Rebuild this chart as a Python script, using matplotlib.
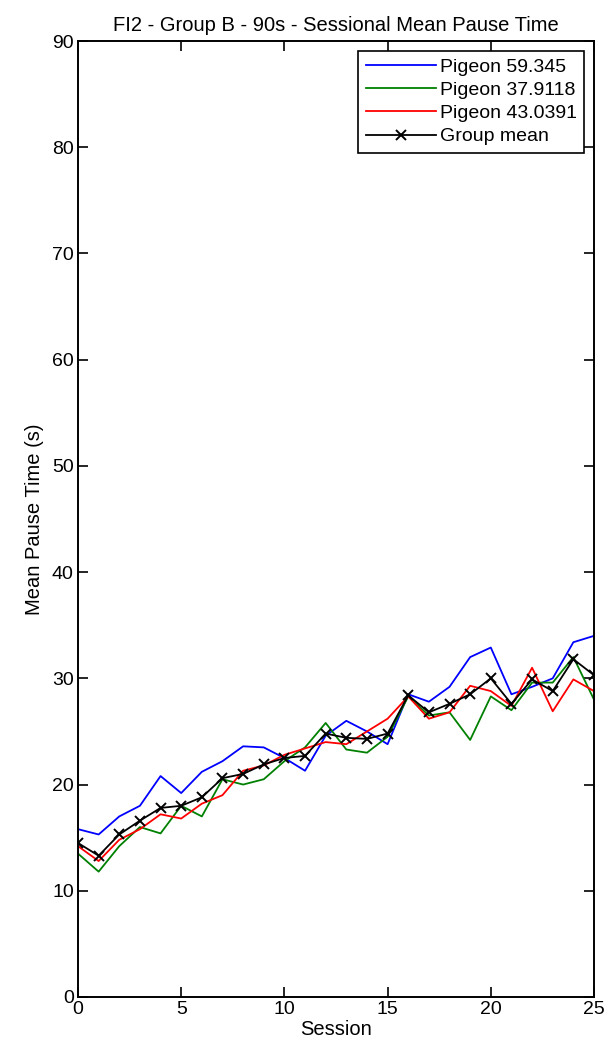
import numpy as np
import matplotlib.pyplot as plt

plt.rcParams['font.family'] = ['Liberation Sans', 'DejaVu Sans']

sessions = np.arange(26)
blue = [15.8, 15.3, 17.0, 18.0, 20.8, 19.2, 21.2, 22.2, 23.6, 23.5, 22.5, 21.3, 24.6,
        26.0, 25.0, 23.8, 28.5, 27.8, 29.2, 32.0, 32.9, 28.5, 29.2, 30.0, 33.4, 34.0]
green = [13.5, 11.8, 14.2, 16.0, 15.4, 18.0, 17.0, 20.5, 20.0, 20.5, 22.2, 23.5, 25.8,
         23.3, 23.0, 24.5, 28.3, 26.5, 26.8, 24.2, 28.3, 27.0, 29.6, 29.6, 32.0, 28.0]
red = [14.2, 12.8, 14.8, 15.8, 17.2, 16.8, 18.2, 19.0, 21.3, 21.8, 22.8, 23.4, 24.0,
       23.8, 25.0, 26.2, 28.3, 26.2, 26.8, 29.3, 28.8, 27.4, 31.0, 26.9, 29.9, 28.8]
group_mean = [14.5, 13.3, 15.3, 16.6, 17.8, 18.0, 18.8, 20.6, 21.0, 21.9, 22.5, 22.7, 24.8,
              24.4, 24.3, 24.8, 28.4, 26.8, 27.6, 28.5, 30.0, 27.6, 29.9, 28.8, 31.8, 30.3]
labels = ['Pigeon 59.345', 'Pigeon 37.9118', 'Pigeon 43.0391', 'Group mean']

fig = plt.figure(figsize=(6.06, 10.53), dpi=100)
ax = fig.add_axes([0.1287, 0.0532, 0.8515, 0.9078])

ax.plot(sessions, blue, color='#0000ff', lw=1.3, label=labels[0])
ax.plot(sessions, green, color='#008000', lw=1.3, label=labels[1])
ax.plot(sessions, red, color='#ff0000', lw=1.3, label=labels[2])
ax.plot(sessions, group_mean, color='black', lw=1.3, marker='x', ms=7, mew=1.4,
        label=labels[3])

ax.set_xlim(0, 25)
ax.set_ylim(0, 90)
ax.set_xticks(np.arange(0, 26, 5))
ax.set_yticks(np.arange(0, 91, 10))
ax.tick_params(direction='in', top=True, right=True, length=7, width=1.2,
               labelsize=14, pad=3)
for s in ax.spines.values():
    s.set_linewidth(1.4)

ax.set_title('FI2 - Group B - 90s - Sessional Mean Pause Time', fontsize=14.5, pad=7)
ax.set_xlabel('Session', fontsize=14.5, labelpad=1)
ax.set_ylabel('Mean Pause Time (s)', fontsize=14.5, labelpad=6)

leg = ax.legend(loc='upper right', fontsize=14, handlelength=3.6, handletextpad=0.2,
                labelspacing=0.28, borderpad=0.4, fancybox=False, framealpha=1,
                borderaxespad=0.5)
leg.get_frame().set_edgecolor('black')
leg.get_frame().set_linewidth(1.2)

fig.savefig('out.png', dpi=100)
